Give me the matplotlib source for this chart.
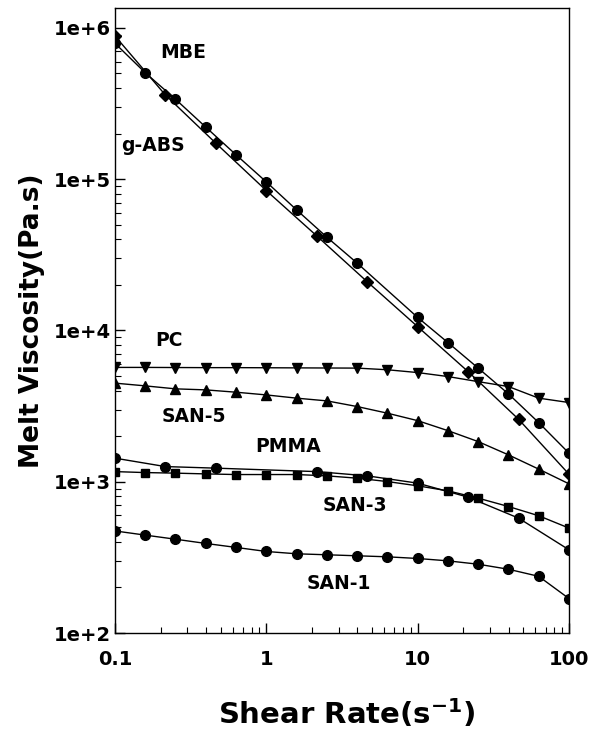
import numpy as np
import matplotlib
matplotlib.use('Agg')
import matplotlib.pyplot as plt
from matplotlib.ticker import LogLocator, NullFormatter, FixedLocator

# shear rates (two sampling grids used in the measurements)
rate_fine = [0.1, 0.158, 0.251, 0.398, 0.631, 1.0, 1.585, 2.512, 3.981, 6.31,
             10.0, 15.85, 25.12, 39.81, 63.1, 100.0]
rate_third = [0.1, 0.215, 0.464, 1.0, 2.154, 4.642, 10.0, 21.54, 46.42, 100.0]

# MBE (circles) - no point at 6.3
rate_mbe = [0.1, 0.158, 0.251, 0.398, 0.631, 1.0, 1.585, 2.512, 3.981,
            10.0, 15.85, 25.12, 39.81, 63.1, 100.0]
visc_mbe = [792000, 507000, 338000, 221000, 145000, 96000, 62700, 41400, 27900,
            12200, 8320, 5640, 3810, 2460, 1545]

# g-ABS (diamonds)
visc_gabs = [885000, 361000, 173000, 84100, 42200, 21000, 10600, 5350, 2590, 1122]

# PC (down triangles)
visc_pc = [5700, 5700, 5690, 5680, 5680, 5670, 5660, 5650, 5640, 5500,
           5270, 4960, 4590, 4260, 3570, 3340]

# SAN-5 (up triangles)
visc_san5 = [4487, 4305, 4113, 4049, 3908, 3750, 3570, 3425, 3142, 2840,
             2535, 2177, 1843, 1506, 1212, 969]

# PMMA (circles) - no point at 1
rate_pmma = [0.1, 0.215, 0.464, 2.154, 4.642, 10.0, 21.54, 46.42, 100.0]
visc_pmma = [1432, 1260, 1230, 1167, 1094, 979, 791, 575, 355]

# SAN-3 (squares)
visc_san3 = [1167, 1150, 1140, 1127, 1116, 1116, 1116, 1094, 1056, 1003,
             940, 871, 779, 686, 596, 494]

# SAN-1 (circles)
visc_san1 = [473, 444, 417, 391, 368, 346, 334, 329, 324, 319,
             311, 300, 285, 264, 237, 169]

fig = plt.figure(figsize=(5.89, 7.33), dpi=100)
ax = fig.add_axes([0.1952, 0.1364, 0.7708, 0.8527])

kw = dict(color='black', lw=1.0, markerfacecolor='black', markeredgecolor='black')
ax.plot(rate_mbe, visc_mbe, marker='o', ms=7, **kw)
ax.plot(rate_third, visc_gabs, marker='D', ms=6, **kw)
ax.plot(rate_fine, visc_pc, marker='v', ms=7.5, **kw)
ax.plot(rate_fine, visc_san5, marker='^', ms=7.5, **kw)
ax.plot(rate_pmma, visc_pmma, marker='o', ms=7, **kw)
ax.plot(rate_fine, visc_san3, marker='s', ms=6, **kw)
ax.plot(rate_fine, visc_san1, marker='o', ms=7, **kw)

ax.set_xscale('log')
ax.set_yscale('log')
ax.set_xlim(0.1, 100)
ax.set_ylim(100, 1.355e6)

# ticks
ax.xaxis.set_major_locator(FixedLocator([0.1, 1, 10, 100]))
ax.set_xticklabels(['0.1', '1', '10', '100'])
ax.yaxis.set_major_locator(FixedLocator([1e2, 1e3, 1e4, 1e5, 1e6]))
ax.set_yticklabels(['1e+2', '1e+3', '1e+4', '1e+5', '1e+6'])
ax.xaxis.set_minor_locator(LogLocator(base=10, subs=np.arange(2, 10)))
ax.yaxis.set_minor_locator(LogLocator(base=10, subs=np.arange(2, 10)))
ax.xaxis.set_minor_formatter(NullFormatter())
ax.yaxis.set_minor_formatter(NullFormatter())
ax.tick_params(which='both', direction='in', top=False, right=False)
ax.tick_params(which='major', length=7, width=1)
ax.tick_params(which='minor', length=4, width=0.8)
ax.tick_params(axis='x', which='major', pad=12)
ax.tick_params(axis='y', which='major', pad=3)
for lab in ax.get_xticklabels() + ax.get_yticklabels():
    lab.set_fontsize(14)
    lab.set_fontweight('bold')
    lab.set_family('DejaVu Sans')

for sp in ax.spines.values():
    sp.set_linewidth(1.0)

ax.set_ylabel('Melt Viscosity(Pa.s)', fontsize=19, fontweight='bold')
ax.set_xlabel(r'Shear Rate(s$^{\mathbf{-1}}$)', fontsize=21, fontweight='bold')
ax.yaxis.set_label_coords(-0.155, 0.5)
ax.xaxis.set_label_coords(0.51, -0.103)

# curve labels
labels = ['MBE', 'g-ABS', 'PC', 'SAN-5', 'PMMA', 'SAN-3', 'SAN-1']
label_x = [0.282, 0.179, 0.228, 0.334, 1.40, 3.83, 3.0]
label_y = [6.93e5, 1.66e5, 8.65e3, 2.72e3, 1.70e3, 7.0e2, 2.11e2]
for t, lx, ly in zip(labels, label_x, label_y):
    ax.text(lx, ly, t, fontsize=13.5, fontweight='bold', ha='center', va='center')

fig.savefig('out.png', dpi=100)
